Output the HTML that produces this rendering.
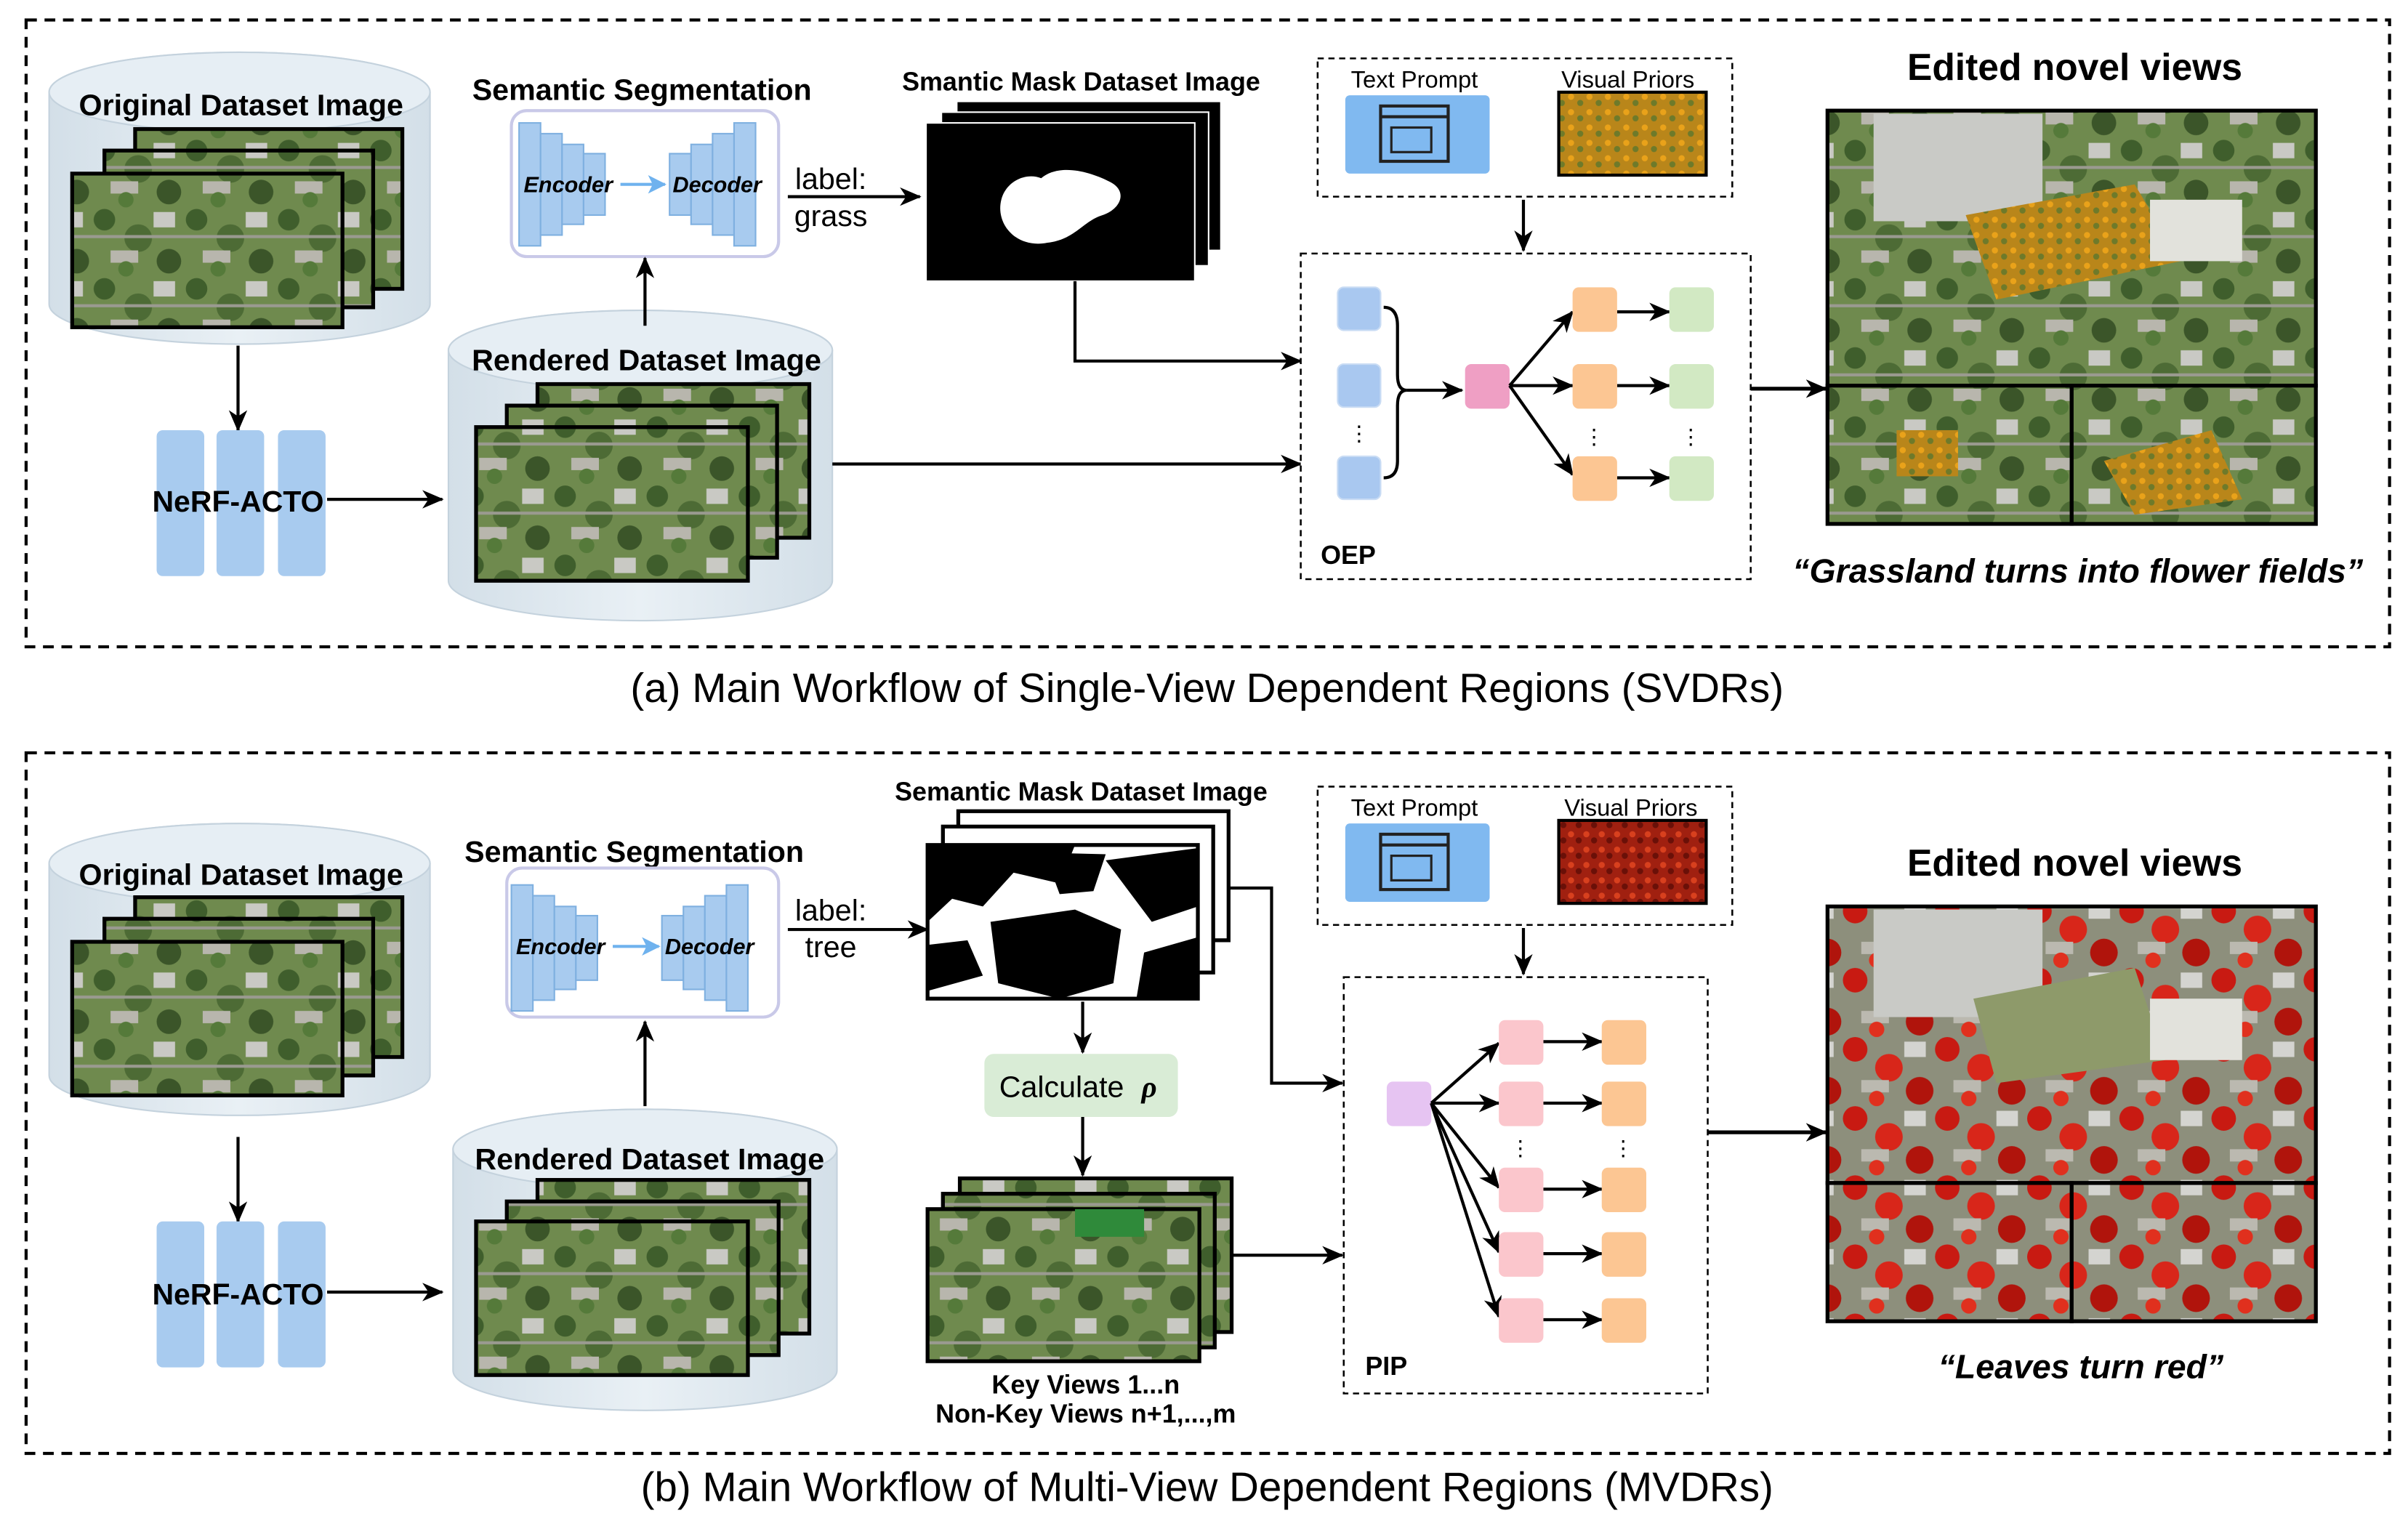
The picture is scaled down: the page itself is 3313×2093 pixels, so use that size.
<!DOCTYPE html>
<html><head><meta charset="utf-8"><style>
html,body{margin:0;padding:0;background:#fff}
svg{display:block}
text{font-family:"Liberation Sans",Arial,sans-serif}
</style></head><body>
<svg width="3313" height="2093" viewBox="0 0 1568 990" preserveAspectRatio="none" xmlns="http://www.w3.org/2000/svg">
<defs>
<marker id="ah" markerWidth="14" markerHeight="14" refX="13" refY="7" orient="auto" markerUnits="userSpaceOnUse"><path d="M0,1 L14,7 L0,13 L4,7 Z" fill="#000"/></marker>
<marker id="ahb" markerWidth="12" markerHeight="12" refX="11" refY="6" orient="auto" markerUnits="userSpaceOnUse"><path d="M0,0 L12,6 L0,12 L3,6 Z" fill="#6fb2ee"/></marker>
<pattern id="aer" patternUnits="userSpaceOnUse" width="60" height="45">
<rect width="60" height="45" fill="#6f8a4e"/>
<circle cx="8" cy="8" r="7" fill="#3f5e2c"/><circle cx="30" cy="20" r="9" fill="#4d6b35"/>
<rect x="40" y="3" width="14" height="10" fill="#c9c9c4"/><rect x="12" y="28" width="18" height="8" fill="#b8b6ad"/>
<circle cx="50" cy="35" r="8" fill="#3b5529"/><rect x="0" y="18" width="60" height="2" fill="#9a9a90"/>
<circle cx="22" cy="40" r="5" fill="#557a3a"/>
</pattern>
<pattern id="flw" patternUnits="userSpaceOnUse" width="12" height="10">
<rect width="12" height="10" fill="#b9861a"/><circle cx="3" cy="3" r="2" fill="#e9a21a"/><circle cx="9" cy="7" r="2" fill="#6e7a2a"/>
</pattern>
<pattern id="red" patternUnits="userSpaceOnUse" width="10" height="10">
<rect width="10" height="10" fill="#a02010"/><circle cx="3" cy="3" r="2" fill="#d8401e"/><circle cx="8" cy="7" r="2" fill="#6a1008"/>
</pattern>
<pattern id="redaer" patternUnits="userSpaceOnUse" width="60" height="45">
<rect width="60" height="45" fill="#8d8f7c"/>
<circle cx="8" cy="8" r="8" fill="#c81a12"/><circle cx="30" cy="20" r="9" fill="#d8261a"/>
<rect x="40" y="3" width="14" height="10" fill="#d4d4d0"/><rect x="12" y="28" width="18" height="8" fill="#bbb9b0"/>
<circle cx="50" cy="35" r="9" fill="#b0140c"/><circle cx="22" cy="40" r="5" fill="#e0301e"/>
</pattern>
<linearGradient id="cyl" x1="0" x2="1" y1="0" y2="0"><stop offset="0" stop-color="#d3dfe8"/><stop offset=".5" stop-color="#e9f0f5"/><stop offset="1" stop-color="#d3dfe8"/></linearGradient>
</defs>

<rect x="17" y="13" width="1539" height="408" fill="none" stroke="#000" stroke-width="2" stroke-dasharray="7,5"/>
<text x="786" y="457" font-size="26.8" text-anchor="middle">(a) Main Workflow of Single-View Dependent Regions (SVDRs)</text>
<rect x="17" y="490" width="1539" height="456" fill="none" stroke="#000" stroke-width="2" stroke-dasharray="7,5"/>
<text x="786" y="977" font-size="26.8" text-anchor="middle">(b) Main Workflow of Multi-View Dependent Regions (MVDRs)</text>

<!-- ===== PANEL A ===== -->
<path d="M32,60 A124,26 0 0 1 280,60 L280,198 A124,26 0 0 1 32,198 Z" fill="url(#cyl)" stroke="#c4d2dd"/>
<ellipse cx="156" cy="60" rx="124" ry="26" fill="#e6eef4" stroke="#c4d2dd"/>
<text x="157" y="75" font-size="19.5" font-weight="bold" text-anchor="middle">Original Dataset Image</text>
<rect x="88" y="84" width="174" height="104" fill="url(#aer)" stroke="#000" stroke-width="2.5"/>
<rect x="68" y="98" width="175" height="102" fill="url(#aer)" stroke="#000" stroke-width="2.5"/>
<rect x="47" y="113" width="176" height="100" fill="url(#aer)" stroke="#000" stroke-width="2.5"/>
<line x1="155" y1="225" x2="155" y2="280" stroke="#000" stroke-width="2" marker-end="url(#ah)"/>
<rect x="102" y="280" width="31" height="95" rx="4" fill="#a8cbef"/>
<rect x="141" y="280" width="31" height="95" rx="4" fill="#a8cbef"/>
<rect x="181" y="280" width="31" height="95" rx="4" fill="#a8cbef"/>
<text x="155" y="333" font-size="19.4" font-weight="bold" text-anchor="middle">NeRF-ACTO</text>
<line x1="213" y1="325" x2="288" y2="325" stroke="#000" stroke-width="2" marker-end="url(#ah)"/>

<path d="M292,228 A125,26 0 0 1 542,228 L542,378 A125,26 0 0 1 292,378 Z" fill="url(#cyl)" stroke="#c4d2dd"/>
<ellipse cx="417" cy="228" rx="125" ry="26" fill="#e6eef4" stroke="#c4d2dd"/>
<text x="421" y="241" font-size="19.5" font-weight="bold" text-anchor="middle">Rendered Dataset Image</text>
<rect x="350" y="250" width="177" height="100" fill="url(#aer)" stroke="#000" stroke-width="2.5"/>
<rect x="330" y="264" width="176" height="99" fill="url(#aer)" stroke="#000" stroke-width="2.5"/>
<rect x="310" y="278" width="177" height="100" fill="url(#aer)" stroke="#000" stroke-width="2.5"/>

<text x="418" y="65" font-size="19.5" font-weight="bold" text-anchor="middle">Semantic Segmentation</text>
<rect x="333" y="72" width="174" height="95" rx="10" fill="#fff" stroke="#c9c9e8" stroke-width="2"/>
<rect x="338" y="80" width="14" height="80" fill="#a8cbef" stroke="#7fb0e0"/>
<rect x="352" y="87" width="14" height="66" fill="#a8cbef" stroke="#7fb0e0"/>
<rect x="366" y="94" width="14" height="52" fill="#a8cbef" stroke="#7fb0e0"/>
<rect x="380" y="100" width="14" height="40" fill="#a8cbef" stroke="#7fb0e0"/>
<rect x="436" y="100" width="14" height="40" fill="#a8cbef" stroke="#7fb0e0"/>
<rect x="450" y="94" width="14" height="52" fill="#a8cbef" stroke="#7fb0e0"/>
<rect x="464" y="87" width="14" height="66" fill="#a8cbef" stroke="#7fb0e0"/>
<rect x="478" y="80" width="14" height="80" fill="#a8cbef" stroke="#7fb0e0"/>
<text x="370" y="125" font-size="14.5" font-weight="bold" font-style="italic" text-anchor="middle">Encoder</text>
<text x="467" y="125" font-size="14.5" font-weight="bold" font-style="italic" text-anchor="middle">Decoder</text>
<line x1="404" y1="120" x2="433" y2="120" stroke="#6fb2ee" stroke-width="2" marker-end="url(#ahb)"/>
<line x1="420" y1="212" x2="420" y2="168" stroke="#000" stroke-width="2" marker-end="url(#ah)"/>

<text x="541" y="123" font-size="19.5" text-anchor="middle">label:</text>
<text x="541" y="147" font-size="19.5" text-anchor="middle">grass</text>
<line x1="513" y1="128" x2="599" y2="128" stroke="#000" stroke-width="2" marker-end="url(#ah)"/>

<text x="704" y="59" font-size="17" font-weight="bold" text-anchor="middle">Smantic Mask Dataset Image</text>
<rect x="623" y="66" width="172" height="97" fill="#000" stroke="#fff"/>
<rect x="613" y="73" width="174" height="100" fill="#000" stroke="#fff"/>
<rect x="603" y="80" width="175" height="103" fill="#000" stroke="#fff"/>
<path d="M652,130 C655,118 668,112 678,116 C690,106 710,112 722,118 C735,124 730,136 718,140 C705,144 700,156 682,158 C662,162 648,146 652,130 Z" fill="#fff"/>
<polyline points="700,183 700,235 847,235" fill="none" stroke="#000" stroke-width="2" marker-end="url(#ah)"/>
<line x1="542" y1="302" x2="847" y2="302" stroke="#000" stroke-width="2" marker-end="url(#ah)"/>

<rect x="858" y="38" width="270" height="90" fill="#fff" stroke="#000" stroke-width="1.2" stroke-dasharray="4,3"/>
<text x="921" y="57" font-size="15.5" text-anchor="middle">Text Prompt</text>
<text x="1060" y="57" font-size="15.5" text-anchor="middle">Visual Priors</text>
<rect x="876" y="62" width="94" height="51" rx="3" fill="#80b9f0"/>
<rect x="899" y="69" width="44" height="36" fill="none" stroke="#222" stroke-width="2"/>
<line x1="899" y1="76" x2="943" y2="76" stroke="#222" stroke-width="2"/>
<rect x="906" y="83" width="26" height="16" fill="none" stroke="#222" stroke-width="1.5"/>
<rect x="1015" y="60" width="96" height="54" fill="url(#flw)" stroke="#000" stroke-width="2"/>
<line x1="992" y1="130" x2="992" y2="163" stroke="#000" stroke-width="2" marker-end="url(#ah)"/>

<rect x="847" y="165" width="293" height="212" fill="#fff" stroke="#000" stroke-width="1.2" stroke-dasharray="4,3"/>
<text x="860" y="367" font-size="17" font-weight="bold">OEP</text>
<g fill="#a9c8f0" stroke="#c9dcf4">
<rect x="871" y="187" width="28" height="28" rx="4"/><rect x="871" y="237" width="28" height="28" rx="4"/><rect x="871" y="297" width="28" height="28" rx="4"/>
</g>
<text x="885" y="287" font-size="14" text-anchor="middle">⋮</text>
<path d="M901,200 Q910,200 910,212 L910,244 Q910,254 916,254 Q910,254 910,264 L910,300 Q910,311 901,311" fill="none" stroke="#000" stroke-width="2"/>
<line x1="916" y1="254" x2="952" y2="254" stroke="#000" stroke-width="2" marker-end="url(#ah)"/>
<rect x="954" y="237" width="29" height="29" rx="4" fill="#ef9fc4"/>
<g stroke="#000" stroke-width="2" marker-end="url(#ah)">
<line x1="983" y1="251" x2="1024" y2="203"/><line x1="983" y1="251" x2="1024" y2="251"/><line x1="983" y1="251" x2="1024" y2="309"/>
<line x1="1053" y1="203" x2="1087" y2="203"/><line x1="1053" y1="251" x2="1087" y2="251"/><line x1="1053" y1="311" x2="1087" y2="311"/>
</g>
<g fill="#fcc693"><rect x="1024" y="187" width="29" height="29" rx="4"/><rect x="1024" y="237" width="29" height="29" rx="4"/><rect x="1024" y="297" width="29" height="29" rx="4"/></g>
<g fill="#d2e9c3"><rect x="1087" y="187" width="29" height="29" rx="4"/><rect x="1087" y="237" width="29" height="29" rx="4"/><rect x="1087" y="297" width="29" height="29" rx="4"/></g>
<text x="1038" y="289" font-size="14" text-anchor="middle">⋮</text>
<text x="1101" y="289" font-size="14" text-anchor="middle">⋮</text>

<line x1="1140" y1="253" x2="1189" y2="253" stroke="#000" stroke-width="2.5" marker-end="url(#ah)"/>
<text x="1351" y="52" font-size="24.4" font-weight="bold" text-anchor="middle">Edited novel views</text>
<rect x="1190" y="72" width="318" height="179" fill="url(#aer)" stroke="#000" stroke-width="2.5"/>
<rect x="1220" y="74" width="110" height="70" fill="#c9cac6"/>
<path d="M1280,140 L1390,120 L1420,170 L1300,195 Z" fill="url(#flw)"/>
<rect x="1400" y="130" width="60" height="40" fill="#e2e2dc"/>
<rect x="1190" y="251" width="159" height="90" fill="url(#aer)" stroke="#000" stroke-width="2.5"/>
<rect x="1235" y="280" width="40" height="30" fill="url(#flw)"/>
<rect x="1349" y="251" width="159" height="90" fill="url(#aer)" stroke="#000" stroke-width="2.5"/>
<path d="M1370,300 L1440,280 L1460,325 L1390,335 Z" fill="url(#flw)"/>
<text x="1353" y="379" font-size="22" font-weight="bold" font-style="italic" text-anchor="middle">“Grassland turns into flower fields”</text>

<!-- ===== PANEL B ===== -->
<path d="M32,562 A124,26 0 0 1 280,562 L280,700 A124,26 0 0 1 32,700 Z" fill="url(#cyl)" stroke="#c4d2dd"/>
<ellipse cx="156" cy="562" rx="124" ry="26" fill="#e6eef4" stroke="#c4d2dd"/>
<text x="157" y="576" font-size="19.5" font-weight="bold" text-anchor="middle">Original Dataset Image</text>
<rect x="88" y="584" width="174" height="104" fill="url(#aer)" stroke="#000" stroke-width="2.5"/>
<rect x="68" y="598" width="175" height="102" fill="url(#aer)" stroke="#000" stroke-width="2.5"/>
<rect x="47" y="613" width="176" height="100" fill="url(#aer)" stroke="#000" stroke-width="2.5"/>
<line x1="155" y1="740" x2="155" y2="795" stroke="#000" stroke-width="2" marker-end="url(#ah)"/>
<rect x="102" y="795" width="31" height="95" rx="4" fill="#a8cbef"/>
<rect x="141" y="795" width="31" height="95" rx="4" fill="#a8cbef"/>
<rect x="181" y="795" width="31" height="95" rx="4" fill="#a8cbef"/>
<text x="155" y="849" font-size="19.4" font-weight="bold" text-anchor="middle">NeRF-ACTO</text>
<line x1="213" y1="841" x2="288" y2="841" stroke="#000" stroke-width="2" marker-end="url(#ah)"/>

<path d="M295,748 A125,26 0 0 1 545,748 L545,892 A125,26 0 0 1 295,892 Z" fill="url(#cyl)" stroke="#c4d2dd"/>
<ellipse cx="420" cy="748" rx="125" ry="26" fill="#e6eef4" stroke="#c4d2dd"/>
<text x="423" y="761" font-size="19.5" font-weight="bold" text-anchor="middle">Rendered Dataset Image</text>
<rect x="350" y="768" width="177" height="100" fill="url(#aer)" stroke="#000" stroke-width="2.5"/>
<rect x="330" y="782" width="177" height="100" fill="url(#aer)" stroke="#000" stroke-width="2.5"/>
<rect x="310" y="795" width="177" height="100" fill="url(#aer)" stroke="#000" stroke-width="2.5"/>

<text x="413" y="561" font-size="19.5" font-weight="bold" text-anchor="middle">Semantic Segmentation</text>
<rect x="330" y="565" width="177" height="97" rx="10" fill="#fff" stroke="#c9c9e8" stroke-width="2"/>
<rect x="333" y="576" width="14" height="82" fill="#a8cbef" stroke="#7fb0e0"/>
<rect x="347" y="583" width="14" height="68" fill="#a8cbef" stroke="#7fb0e0"/>
<rect x="361" y="590" width="14" height="54" fill="#a8cbef" stroke="#7fb0e0"/>
<rect x="375" y="596" width="14" height="42" fill="#a8cbef" stroke="#7fb0e0"/>
<rect x="431" y="596" width="14" height="42" fill="#a8cbef" stroke="#7fb0e0"/>
<rect x="445" y="590" width="14" height="54" fill="#a8cbef" stroke="#7fb0e0"/>
<rect x="459" y="583" width="14" height="68" fill="#a8cbef" stroke="#7fb0e0"/>
<rect x="473" y="576" width="14" height="82" fill="#a8cbef" stroke="#7fb0e0"/>
<text x="365" y="621" font-size="14.5" font-weight="bold" font-style="italic" text-anchor="middle">Encoder</text>
<text x="462" y="621" font-size="14.5" font-weight="bold" font-style="italic" text-anchor="middle">Decoder</text>
<line x1="399" y1="616" x2="429" y2="616" stroke="#6fb2ee" stroke-width="2" marker-end="url(#ahb)"/>
<line x1="420" y1="720" x2="420" y2="665" stroke="#000" stroke-width="2" marker-end="url(#ah)"/>

<text x="541" y="599" font-size="19.5" text-anchor="middle">label:</text>
<text x="541" y="623" font-size="19.5" text-anchor="middle">tree</text>
<line x1="513" y1="605" x2="604" y2="605" stroke="#000" stroke-width="2" marker-end="url(#ah)"/>

<text x="704" y="521" font-size="17" font-weight="bold" text-anchor="middle">Semantic Mask Dataset Image</text>
<rect x="624" y="528" width="176" height="84" fill="#fff" stroke="#000" stroke-width="2.5"/>
<rect x="614" y="538" width="176" height="95" fill="#fff" stroke="#000" stroke-width="2.5"/>
<rect x="604" y="550" width="176" height="100" fill="#fff" stroke="#000" stroke-width="2.5"/>
<g fill="#000">
<path d="M604,550 L700,550 L690,575 L660,568 L640,590 L620,585 L604,600 Z"/>
<path d="M645,600 L700,592 L730,605 L725,640 L690,650 L650,640 Z"/>
<path d="M720,560 L780,552 L780,590 L750,600 L735,580 Z"/>
<path d="M604,615 L630,612 L640,635 L604,645 Z"/>
<path d="M745,620 L780,610 L780,650 L740,650 Z"/>
<path d="M680,555 L720,556 L712,580 L690,582 Z"/>
</g>
<polyline points="800,578 828,578 828,705 874,705" fill="none" stroke="#000" stroke-width="2" marker-end="url(#ah)"/>
<line x1="705" y1="652" x2="705" y2="685" stroke="#000" stroke-width="2" marker-end="url(#ah)"/>
<rect x="641" y="686" width="126" height="41" rx="6" fill="#d9ecd6"/>
<text x="702" y="714" font-size="19.5" text-anchor="middle">Calculate <tspan font-style="italic" font-weight="bold" font-family="Liberation Serif" dx="6">ρ</tspan></text>
<line x1="705" y1="727" x2="705" y2="765" stroke="#000" stroke-width="2" marker-end="url(#ah)"/>
<rect x="625" y="767" width="177" height="100" fill="url(#aer)" stroke="#000" stroke-width="2.5"/>
<rect x="614" y="777" width="177" height="100" fill="url(#aer)" stroke="#000" stroke-width="2.5"/>
<rect x="604" y="787" width="177" height="99" fill="url(#aer)" stroke="#000" stroke-width="2.5"/>
<rect x="700" y="787" width="45" height="18" fill="#2f8a3a"/>
<text x="707" y="907" font-size="17" font-weight="bold" text-anchor="middle">Key Views 1...n</text>
<text x="707" y="926" font-size="17" font-weight="bold" text-anchor="middle">Non-Key Views n+1,...,m</text>
<line x1="802" y1="817" x2="874" y2="817" stroke="#000" stroke-width="2" marker-end="url(#ah)"/>

<rect x="858" y="512" width="270" height="90" fill="#fff" stroke="#000" stroke-width="1.2" stroke-dasharray="4,3"/>
<text x="921" y="531" font-size="15.5" text-anchor="middle">Text Prompt</text>
<text x="1062" y="531" font-size="15.5" text-anchor="middle">Visual Priors</text>
<rect x="876" y="536" width="94" height="51" rx="3" fill="#80b9f0"/>
<rect x="899" y="543" width="44" height="36" fill="none" stroke="#222" stroke-width="2"/>
<line x1="899" y1="550" x2="943" y2="550" stroke="#222" stroke-width="2"/>
<rect x="906" y="557" width="26" height="16" fill="none" stroke="#222" stroke-width="1.5"/>
<rect x="1015" y="534" width="96" height="54" fill="url(#red)" stroke="#000" stroke-width="2"/>
<line x1="992" y1="604" x2="992" y2="634" stroke="#000" stroke-width="2" marker-end="url(#ah)"/>

<rect x="875" y="636" width="237" height="271" fill="#fff" stroke="#000" stroke-width="1.2" stroke-dasharray="4,3"/>
<text x="889" y="895" font-size="17" font-weight="bold">PIP</text>
<rect x="903" y="704" width="29" height="29" rx="4" fill="#e6c4f2"/>
<g stroke="#000" stroke-width="2" marker-end="url(#ah)">
<line x1="932" y1="718" x2="976" y2="679"/><line x1="932" y1="718" x2="976" y2="718"/><line x1="932" y1="718" x2="976" y2="773"/><line x1="932" y1="718" x2="976" y2="815"/><line x1="932" y1="718" x2="976" y2="857"/>
<line x1="1005" y1="678" x2="1043" y2="678"/><line x1="1005" y1="718" x2="1043" y2="718"/><line x1="1005" y1="774" x2="1043" y2="774"/><line x1="1005" y1="816" x2="1043" y2="816"/><line x1="1005" y1="859" x2="1043" y2="859"/>
</g>
<g fill="#fbc6cc"><rect x="976" y="664" width="29" height="29" rx="4"/><rect x="976" y="704" width="29" height="29" rx="4"/><rect x="976" y="760" width="29" height="29" rx="4"/><rect x="976" y="802" width="29" height="29" rx="4"/><rect x="976" y="845" width="29" height="29" rx="4"/></g>
<g fill="#fcc693"><rect x="1043" y="664" width="29" height="29" rx="4"/><rect x="1043" y="704" width="29" height="29" rx="4"/><rect x="1043" y="760" width="29" height="29" rx="4"/><rect x="1043" y="802" width="29" height="29" rx="4"/><rect x="1043" y="845" width="29" height="29" rx="4"/></g>
<text x="990" y="752" font-size="14" text-anchor="middle">⋮</text>
<text x="1057" y="752" font-size="14" text-anchor="middle">⋮</text>

<line x1="1112" y1="737" x2="1189" y2="737" stroke="#000" stroke-width="2.5" marker-end="url(#ah)"/>
<text x="1351" y="570" font-size="24.4" font-weight="bold" text-anchor="middle">Edited novel views</text>
<rect x="1190" y="590" width="318" height="180" fill="url(#redaer)" stroke="#000" stroke-width="2.5"/>
<rect x="1220" y="592" width="110" height="70" fill="#c9cac6"/>
<path d="M1285,650 L1390,630 L1410,690 L1300,705 Z" fill="#8e9a6a"/>
<rect x="1400" y="650" width="60" height="40" fill="#e2e2dc"/>
<rect x="1190" y="770" width="159" height="90" fill="url(#redaer)" stroke="#000" stroke-width="2.5"/>
<rect x="1349" y="770" width="159" height="90" fill="url(#redaer)" stroke="#000" stroke-width="2.5"/>
<text x="1355" y="897" font-size="22" font-weight="bold" font-style="italic" text-anchor="middle">“Leaves turn red”</text>
</svg>
</body></html>
